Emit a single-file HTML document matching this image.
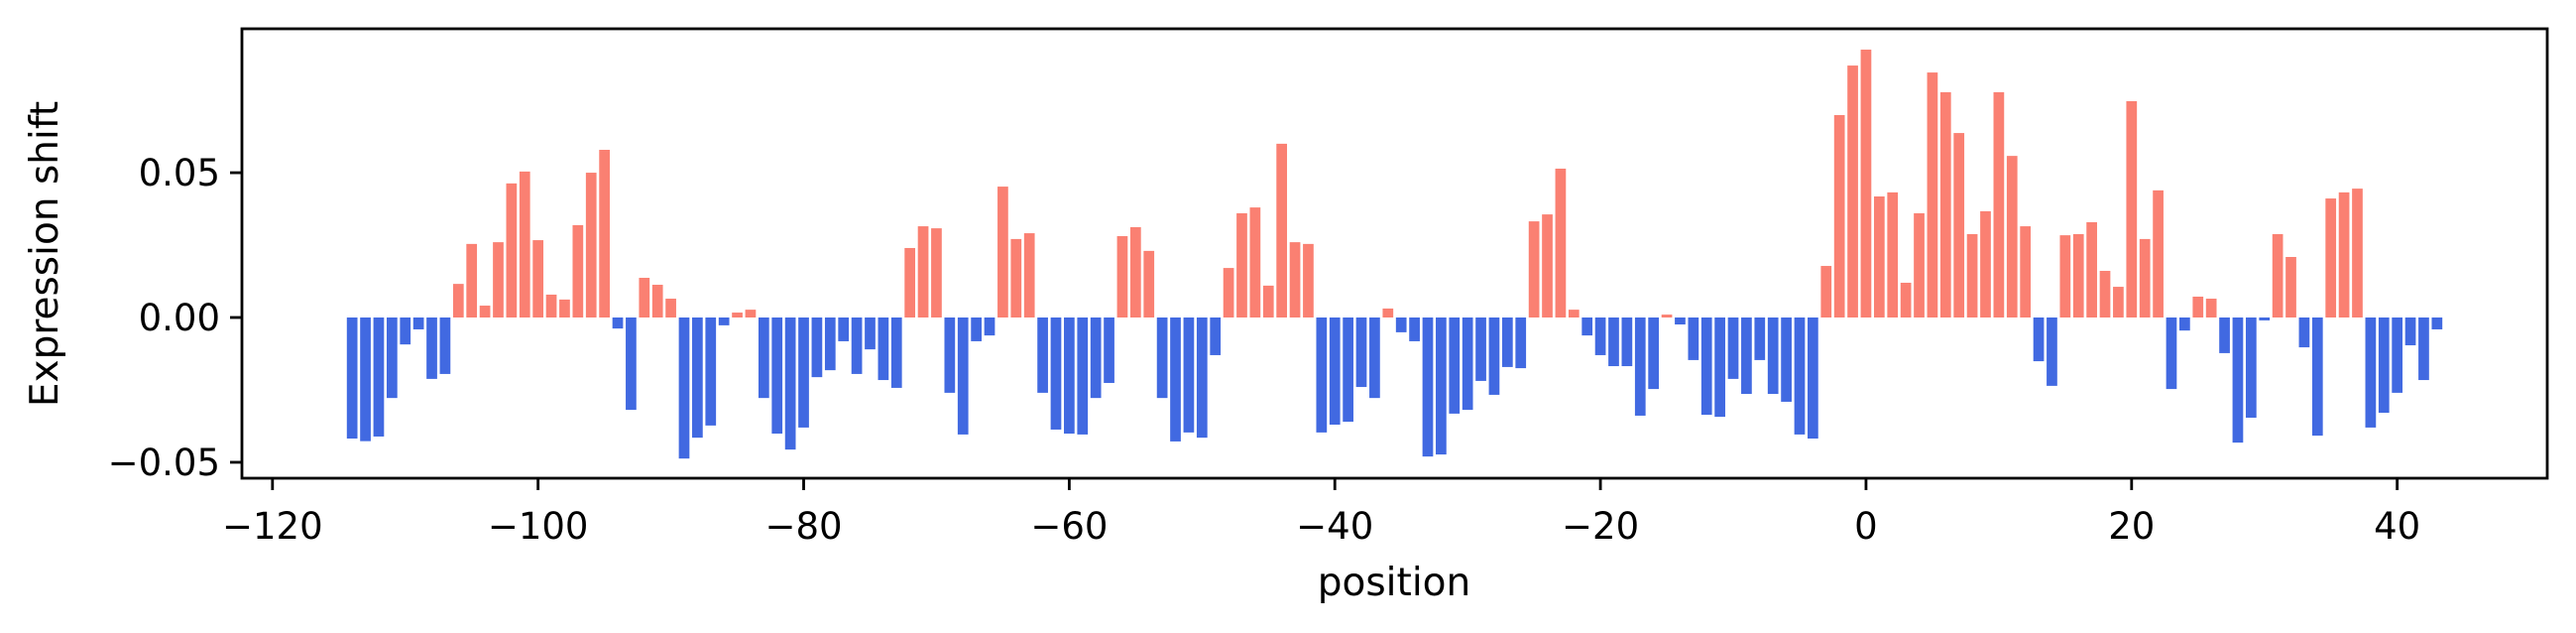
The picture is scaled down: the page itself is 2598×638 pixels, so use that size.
<!DOCTYPE html>
<html><head><meta charset="utf-8"><style>
html,body{margin:0;padding:0;background:#fff;}
svg{display:block;font-family:"DejaVu Sans","Liberation Sans",sans-serif;}
</style></head><body>
<svg id="chart" width="2598" height="638" viewBox="0 0 2598 638" xmlns="http://www.w3.org/2000/svg">
<rect x="0" y="0" width="2598" height="638" fill="#fff"/>
<g id="bars"></g>
<g id="axes"></g>
<text x="1406" y="600" font-size="39" text-anchor="middle">position</text>
<text transform="translate(58,256) rotate(-90)" font-size="39" text-anchor="middle">Expression shift</text>
</svg>
<script>
const startPosition = -114;
const shiftValues = [
-0.0418,-0.0427,-0.0411,-0.0278,-0.0093,-0.0041,-0.0212,-0.0195,
0.0116,0.0254,0.0041,0.0260,0.0463,0.0504,0.0267,0.0079,0.0062,0.0319,0.0500,0.0579,
-0.0038,-0.0319,0.0137,0.0113,0.0065,
-0.0487,-0.0415,-0.0373,-0.0027,0.0017,0.0027,
-0.0278,-0.0401,-0.0456,-0.0380,-0.0206,-0.0182,-0.0082,-0.0195,-0.0110,-0.0216,-0.0243,
0.0240,0.0315,0.0308,
-0.0260,-0.0404,-0.0082,-0.0062,
0.0452,0.0271,0.0291,
-0.0260,-0.0387,-0.0401,-0.0404,-0.0278,-0.0226,
0.0281,0.0312,0.0230,
-0.0278,-0.0428,-0.0397,-0.0415,-0.0130,
0.0171,0.0360,0.0380,0.0110,0.0600,0.0260,0.0254,
-0.0397,-0.0370,-0.0360,-0.0240,-0.0278,0.0031,-0.0051,-0.0082,-0.0480,-0.0473,-0.0332,-0.0319,-0.0219,-0.0267,-0.0171,-0.0175,
0.0332,0.0356,0.0514,0.0027,
-0.0062,-0.0130,-0.0168,-0.0168,-0.0339,-0.0247,0.0010,-0.0024,-0.0147,-0.0336,-0.0343,-0.0212,-0.0264,-0.0147,-0.0264,-0.0291,-0.0404,-0.0418,
0.0178,0.0699,0.0870,0.0925,0.0418,0.0432,0.0120,0.0360,0.0846,0.0778,0.0637,0.0288,0.0367,0.0778,0.0558,0.0315,
-0.0151,-0.0236,
0.0284,0.0288,0.0329,0.0161,0.0106,0.0747,0.0271,0.0439,
-0.0247,-0.0045,0.0072,0.0065,-0.0123,-0.0432,-0.0346,-0.0010,0.0288,0.0209,-0.0103,-0.0408,
0.0411,0.0432,0.0445,
-0.0380,-0.0329,-0.0260,-0.0096,-0.0216,-0.0041
];
const xTicks = [-120,-100,-80,-60,-40,-20,0,20,40];
const yTicks = [-0.05,0.00,0.05];
const yTickLabels = ["\u22120.05","0.00","0.05"];
const xTickLabels = ["\u2212120","\u2212100","\u221280","\u221260","\u221240","\u221220","0","20","40"];

const L=244,R=2569,T=29,B=482;
const xMin=-122.3,xMax=51.3,yMin=-0.0555,yMax=0.0997;
const xs=v=>L+(v-xMin)/(xMax-xMin)*(R-L);
const ys=v=>B-(v-yMin)/(yMax-yMin)*(B-T);
const NS="http://www.w3.org/2000/svg";
const bars=document.getElementById('bars');
const axes=document.getElementById('axes');
const bw=0.8;
shiftValues.forEach((v,i)=>{
  const p=startPosition+i;
  const r=document.createElementNS(NS,'rect');
  const x0=xs(p-bw/2),x1=xs(p+bw/2);
  const y0=ys(Math.max(v,0)),y1=ys(Math.min(v,0));
  r.setAttribute('x',x0);r.setAttribute('width',x1-x0);
  r.setAttribute('y',y0);r.setAttribute('height',Math.max(y1-y0,0.5));
  r.setAttribute('fill',v>=0?'#fa8072':'#4169e1');
  
  
  bars.appendChild(r);
});
const frame=document.createElementNS(NS,'rect');
frame.setAttribute('x',L);frame.setAttribute('y',T);
frame.setAttribute('width',R-L);frame.setAttribute('height',B-T);
frame.setAttribute('fill','none');frame.setAttribute('stroke','#000');frame.setAttribute('stroke-width','2.8');


axes.appendChild(frame);
xTicks.forEach((t,i)=>{
  const x=xs(t);
  const l=document.createElementNS(NS,'line');
  l.setAttribute('x1',x);l.setAttribute('x2',x);l.setAttribute('y1',B);l.setAttribute('y2',B+12);
  l.setAttribute('stroke','#000');l.setAttribute('stroke-width','2.8');
  
  
  axes.appendChild(l);
  const tx=document.createElementNS(NS,'text');
  tx.setAttribute('x',x);tx.setAttribute('y',B+61);tx.setAttribute('font-size','37');tx.setAttribute('text-anchor','middle');
  tx.textContent=xTickLabels[i];
  
  
  axes.appendChild(tx);
});
yTicks.forEach((t,i)=>{
  const y=ys(t);
  const l=document.createElementNS(NS,'line');
  l.setAttribute('x1',L-12);l.setAttribute('x2',L);l.setAttribute('y1',y);l.setAttribute('y2',y);
  l.setAttribute('stroke','#000');l.setAttribute('stroke-width','2.8');
  
  
  axes.appendChild(l);
  const tx=document.createElementNS(NS,'text');
  tx.setAttribute('x',L-22);tx.setAttribute('y',y+13);tx.setAttribute('font-size','37');tx.setAttribute('text-anchor','end');
  tx.textContent=yTickLabels[i];
  
  
  axes.appendChild(tx);
});
</script>
</body></html>
